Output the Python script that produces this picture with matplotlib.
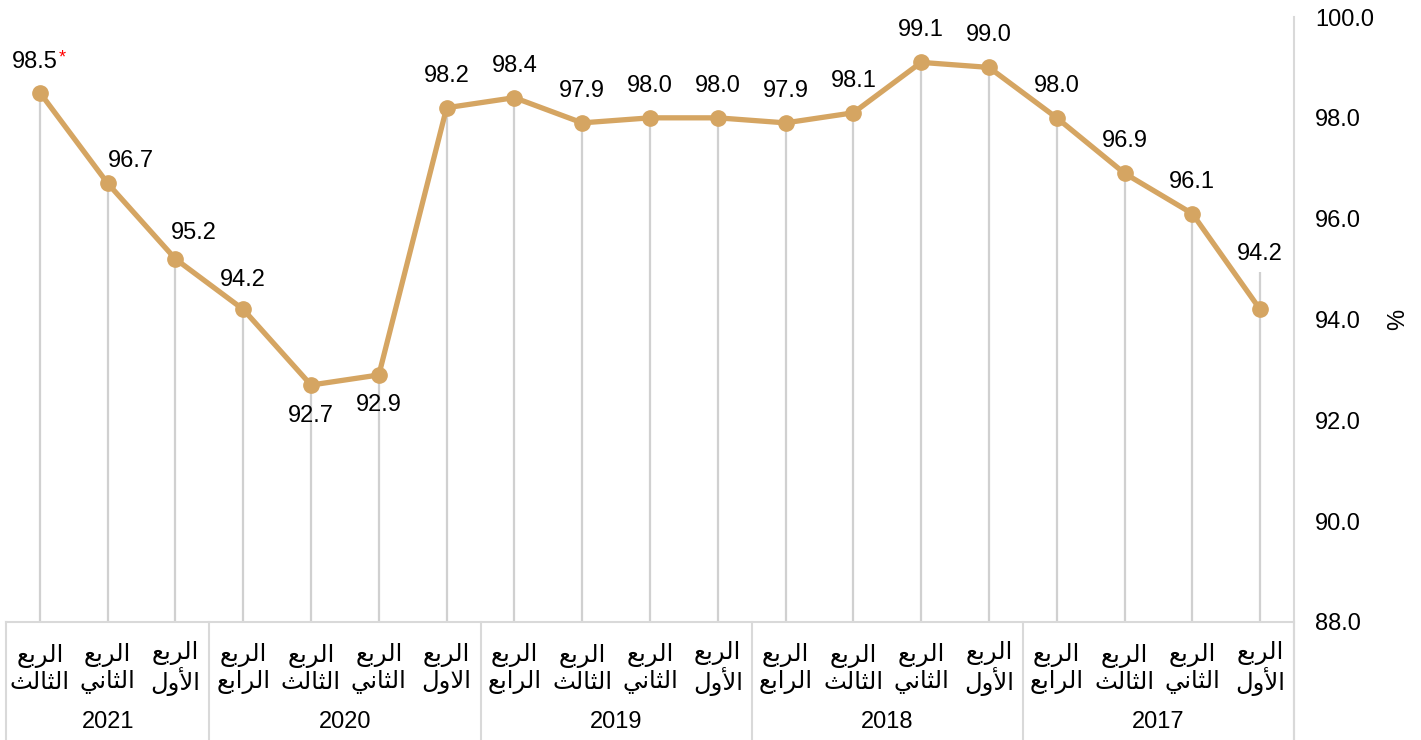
import matplotlib.pyplot as plt
import matplotlib.transforms as mtransforms

plt.rcParams['font.family'] = ['Liberation Sans', 'DejaVu Sans']

# data, oldest quarter first (the chart runs right to left)
years = ['2017', '2018', '2019', '2020', '2021']
quarters = [
    'الربع\nالأول', 'الربع\nالثاني', 'الربع\nالثالث', 'الربع\nالرابع',   # 2017
    'الربع\nالأول', 'الربع\nالثاني', 'الربع\nالثالث', 'الربع\nالرابع',   # 2018
    'الربع\nالأول', 'الربع\nالثاني', 'الربع\nالثالث', 'الربع\nالرابع',   # 2019
    'الربع\nالاول', 'الربع\nالثاني', 'الربع\nالثالث', 'الربع\nالرابع',   # 2020
    'الربع\nالأول', 'الربع\nالثاني', 'الربع\nالثالث',                    # 2021
]
quarters_per_year = [4, 4, 4, 4, 3]
values = [94.2, 96.1, 96.9, 98.0,
          99.0, 99.1, 98.1, 97.9,
          98.0, 98.0, 97.9, 98.4,
          98.2, 92.9, 92.7, 94.2,
          95.2, 96.7, 98.5]

# --- small arabic shaper: matplotlib has no text shaping, so pick the
# presentation forms by hand and put the letters in visual order
FORMS = {  # isolated, final, initial, medial
    'ا': ('\ufe8d', '\ufe8e', None, None),
    'أ': ('\ufe83', '\ufe84', None, None),
    'ب': ('\ufe8f', '\ufe90', '\ufe91', '\ufe92'),
    'ث': ('\ufe99', '\ufe9a', '\ufe9b', '\ufe9c'),
    'ر': ('\ufead', '\ufeae', None, None),
    'ع': ('\ufec9', '\ufeca', '\ufecb', '\ufecc'),
    'ل': ('\ufedd', '\ufede', '\ufedf', '\ufee0'),
    'ن': ('\ufee5', '\ufee6', '\ufee7', '\ufee8'),
    'و': ('\ufeed', '\ufeee', None, None),
    'ي': ('\ufef1', '\ufef2', '\ufef3', '\ufef4'),
}
LAM_ALEF = {'ا': ('\ufefb', '\ufefc'), 'أ': ('\ufef7', '\ufef8')}


def shape_word(word):
    out = []
    prev_joins = False
    i = 0
    while i < len(word):
        c = word[i]
        if c not in FORMS:
            out.append(c)
            prev_joins = False
            i += 1
            continue
        if c == 'ل' and i + 1 < len(word) and word[i + 1] in LAM_ALEF:
            iso, fin = LAM_ALEF[word[i + 1]]
            out.append(fin if prev_joins else iso)
            prev_joins = False
            i += 2
            continue
        iso, fin, ini, med = FORMS[c]
        fwd = ini is not None and i + 1 < len(word) and word[i + 1] in FORMS
        if prev_joins and fwd:
            out.append(med)
        elif prev_joins:
            out.append(fin)
        elif fwd:
            out.append(ini)
        else:
            out.append(iso)
        prev_joins = fwd
        i += 1
    return ''.join(reversed(out))


def shape(text):
    return '\n'.join(' '.join(reversed([shape_word(w) for w in line.split(' ')]))
                     for line in text.split('\n'))


line_color = '#D5A562'
grid_color = '#D0D0D0'
fs = 17

fig = plt.figure(figsize=(14.21, 7.40), dpi=100)
ax = fig.add_axes([6 / 1421, 118 / 740, 1288 / 1421, 605 / 740])

x = list(range(len(values)))

# drop lines (the oldest one runs up under its label)
tops = list(values)
tops[0] = 94.95
ax.vlines(x, 88, tops, color=grid_color, lw=1.6, zorder=1)

ax.plot(x, values, color=line_color, lw=3.8, marker='o', ms=11,
        markeredgecolor=line_color, zorder=3, solid_capstyle='round')

# value labels, offsets in pixels
offsets = {0: (0, 55), 13: (0, -30), 14: (0, -31), 15: (0, 29),
           16: (18, 26), 17: (23, 22), 18: (-5, 31)}
for i, v in enumerate(values):
    dx, dy = offsets.get(i, (0, 32))
    ax.annotate(f'{v:.1f}', (i, v), xytext=(dx, dy), textcoords='offset pixels',
                ha='center', va='center', fontsize=fs, zorder=4)
ax.annotate('*', (18, values[18]), xytext=(19, 35), textcoords='offset pixels',
            ha='left', va='center', fontsize=13, color='red')

ax.set_xlim(len(values) - 0.5, -0.5)
ax.set_ylim(88, 100)
ax.set_yticks(range(88, 101, 2))
ax.set_yticklabels([f'{t:.1f}' for t in range(88, 101, 2)])
ax.yaxis.tick_right()
ax.tick_params(axis='y', length=0, pad=15, labelsize=fs)
ax.set_xticks([])
ax.yaxis.set_label_position('right')
ax.set_ylabel('%', fontsize=fs, rotation=90)
ax.yaxis.set_label_coords(1.072, 0.5)

for side in ['top', 'left', 'right']:
    ax.spines[side].set_visible(False)
ax.spines['bottom'].set_color('#D9D9D9')
ax.spines['bottom'].set_linewidth(1.5)

# right axis line, running down past the category box
ax.plot([1, 1], [-0.2, 1], transform=ax.transAxes, color='#D9D9D9', lw=1.5,
        clip_on=False)

trans = mtransforms.blended_transform_factory(ax.transData, ax.transAxes)

# quarter labels
for i, q in enumerate(quarters):
    ax.text(i, -0.077, shape(q), transform=trans, ha='center', va='center',
            fontsize=17.5, multialignment='center', linespacing=1.1,
            family='DejaVu Sans')

# year groups
start = 0
bounds = [-0.5]
for y, n in zip(years, quarters_per_year):
    ax.text(start + (n - 1) / 2, -0.165, y, transform=trans, ha='center',
            va='center', fontsize=fs)
    start += n
    bounds.append(start - 0.5)
for b in bounds:
    ax.plot([b, b], [-0.2, 0], transform=trans, color='#D9D9D9', lw=1.5,
            clip_on=False)

fig.savefig('out.png', dpi=100)
